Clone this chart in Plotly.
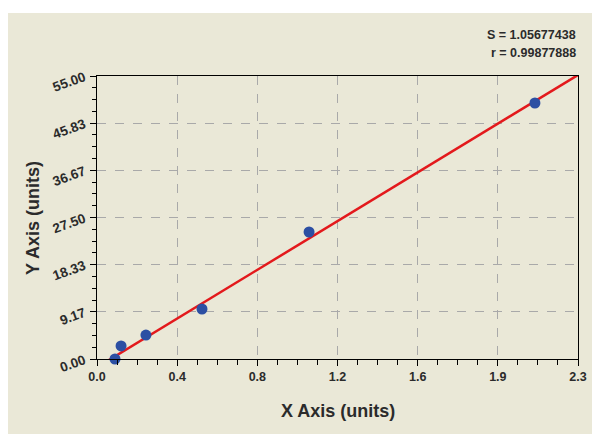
import plotly.graph_objects as go

# Data
x_points = [0.086, 0.115, 0.234, 0.502, 1.014, 2.094]
y_points = [0.0, 2.53, 4.66, 9.72, 24.68, 49.75]

fit_x = [0.045, 2.3]
fit_y = [-0.5, 55.2]

x_tick_vals = [0.0, 2.3 / 6, 2 * 2.3 / 6, 3 * 2.3 / 6, 4 * 2.3 / 6, 5 * 2.3 / 6, 2.3]
x_tick_text = ["0.0", "0.4", "0.8", "1.2", "1.6", "1.9", "2.3"]
y_tick_vals = [0, 55 / 6, 2 * 55 / 6, 3 * 55 / 6, 4 * 55 / 6, 5 * 55 / 6, 55]
y_tick_text = ["0.00", "9.17", "18.33", "27.50", "36.67", "45.83", "55.00"]

stats_lines = ["S = 1.05677438", "r = 0.99877888"]

FONT = "Liberation Sans, Arial, sans-serif"
TXT = "#2b2b2b"

x_minor = [i * 2.3 / 24 for i in range(25)]
y_minor = [i * 55 / 24 for i in range(25)]

fig = go.Figure()
fig.add_trace(go.Scatter(
    x=fit_x, y=fit_y, mode="lines",
    line=dict(color="#e3191c", width=2.5),
    showlegend=False, hoverinfo="skip"))
fig.add_trace(go.Scatter(
    x=x_points, y=y_points, mode="markers",
    marker=dict(color="#2c4fa3", size=11, line=dict(width=0)),
    cliponaxis=False, showlegend=False))

axis_common = dict(
    showline=True, linecolor="black", linewidth=1, mirror=True,
    showgrid=True, gridcolor="#a9a9a9", griddash="dash", gridwidth=1,
    zeroline=False, ticks="outside", ticklen=6, tickcolor="black",
    automargin=False,
)

fig.update_xaxes(
    range=[0, 2.3], tickmode="array", tickvals=x_tick_vals, ticktext=x_tick_text,
    tickfont=dict(family=FONT, size=12.5, color=TXT, weight="bold"),
    minor=dict(ticks="outside", ticklen=5, tickmode="array", tickvals=x_minor,
               tickcolor="black", showgrid=False),
    **axis_common)
fig.update_yaxes(
    range=[0, 55], tickmode="array", tickvals=y_tick_vals, ticktext=y_tick_text,
    tickangle=-20, ticklabelstandoff=3,
    tickfont=dict(family=FONT, size=13.5, color=TXT, weight="bold"),
    minor=dict(ticks="outside", ticklen=4, tickmode="array", tickvals=y_minor,
               tickcolor="black", showgrid=False),
    **axis_common)

# The page body adds an 8px offset; work in screen pixels and compensate.
OFF = 8
W, H = 600 - OFF, 434 - OFF
L, T = 97 - OFF, 76 - OFF
R = W - (578 - OFF)
B = H - (359 - OFF)
pw, ph = W - L - R, H - T - B


def px_x(p):
    return (p - OFF - L) / pw


def px_y(p):
    return (H - B - (p - OFF)) / ph


fig.add_shape(type="rect", xref="paper", yref="paper",
              x0=px_x(8), x1=px_x(597), y0=px_y(440), y1=px_y(13),
              fillcolor="#eae8d7", line=dict(width=0), layer="below")

for i, t in enumerate(stats_lines):
    fig.add_annotation(xref="paper", yref="paper", x=px_x(578), y=px_y(35 + 18 * i),
                       text=t, showarrow=False, xanchor="right", yanchor="middle",
                       font=dict(family=FONT, size=12.5, color=TXT, weight="bold"))

fig.add_annotation(xref="paper", yref="paper", x=px_x(338), y=px_y(411),
                   text="X Axis (units)", showarrow=False, xanchor="center", yanchor="middle",
                   font=dict(family=FONT, size=18, color=TXT, weight="bold"))
fig.add_annotation(xref="paper", yref="paper", x=px_x(33), y=px_y(218),
                   text="Y Axis (units)", showarrow=False, textangle=-90,
                   xanchor="center", yanchor="middle",
                   font=dict(family=FONT, size=18, color=TXT, weight="bold"))

fig.update_layout(
    width=W, height=H,
    margin=dict(l=L, r=R, t=T, b=B),
    paper_bgcolor="white", plot_bgcolor="white",
    font=dict(family=FONT),
)

fig.write_html("out.html")
